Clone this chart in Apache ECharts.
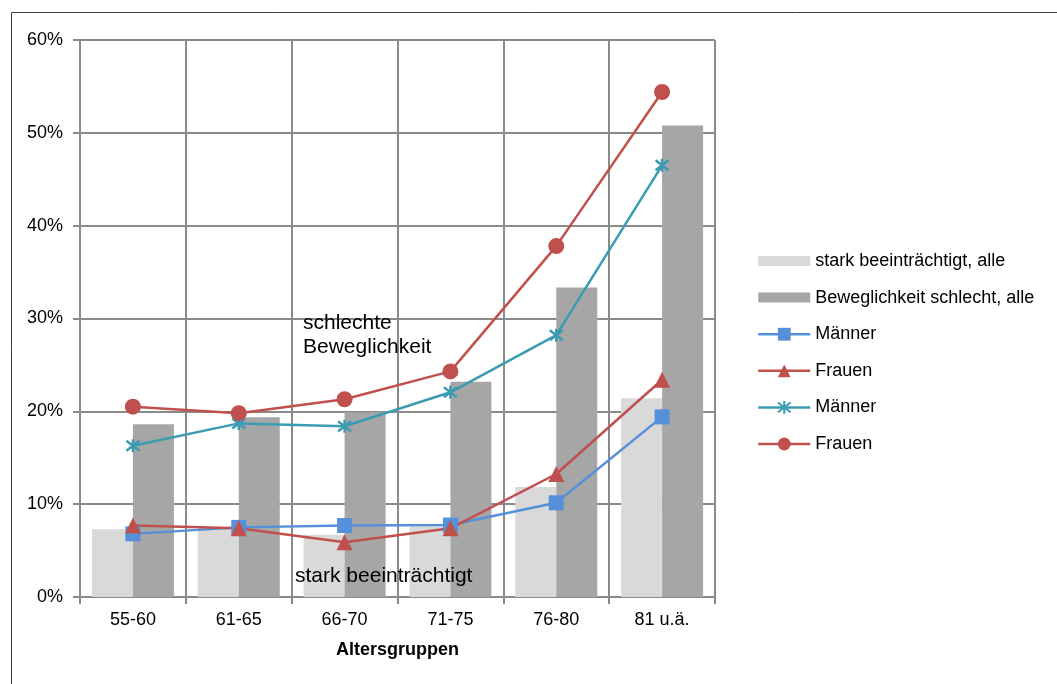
<!DOCTYPE html>
<html>
<head>
<meta charset="utf-8">
<script src="https://cdn.jsdelivr.net/npm/echarts@6/dist/echarts.min.js"></script>
<style>
  html, body { margin: 0; padding: 0; background: #fff; }
  #chart { width: 1057px; height: 684px; }
</style>
</head>
<body>
<div id="chart"></div>
<script>
// Age groups on the x axis
const categories = ['55-60', '61-65', '66-70', '71-75', '76-80', '81 u.ä.'];

// Share of people (in %) per age group
const starkAlle        = [7.3, 7.5, 6.7, 7.6, 11.85, 21.4];     // stark beeinträchtigt, alle
const beweglichAlle    = [18.6, 19.35, 19.9, 23.2, 33.35, 50.8]; // Beweglichkeit schlecht, alle
const starkMaenner     = [6.8, 7.5, 7.7, 7.75, 10.15, 19.4];
const starkFrauen      = [7.7, 7.4, 5.9, 7.4, 13.25, 23.4];
const beweglMaenner    = [16.3, 18.7, 18.4, 22.05, 28.2, 46.5];
const beweglFrauen     = [20.5, 19.8, 21.3, 24.3, 37.8, 54.4];

// Y axis ticks
const yMin = 0, yMax = 60, yStep = 10;

// Legend captions (two series share each of the gender labels)
const legendText = {
  'stark beeinträchtigt, alle': 'stark beeinträchtigt, alle',
  'Beweglichkeit schlecht, alle': 'Beweglichkeit schlecht, alle',
  'Männer (stark)': 'Männer',
  'Frauen (stark)': 'Frauen',
  'Männer (Beweglichkeit)': 'Männer',
  'Frauen (Beweglichkeit)': 'Frauen'
};

const FONT = '"Liberation Sans", Arial, sans-serif';
const GRID_COLOR = '#8a8a8a';
const LIGHT = '#d9d9d9';
const DARK = '#a6a6a6';
const BLUE = '#5590d8';
const RED = '#c0504d';
const TEAL = '#3b9bb3';

// Asterisk marker: an x with a vertical stroke
const asterisk = 'path://M0,0L10,10M10,0L0,10M5,-1.5L5,11.5';
// Flat bar swatch for the legend
const barSwatch = 'path://M0,0H52V10H0Z';

const chart = echarts.init(document.getElementById('chart'), null, { renderer: 'canvas' });

chart.setOption({
  animation: false,
  backgroundColor: '#fff',
  textStyle: { fontFamily: FONT, color: '#000' },
  grid: { left: 80, top: 40, width: 635, height: 557, containLabel: false },
  legend: {
    orient: 'vertical',
    left: 752,
    top: 247,
    itemWidth: 52,
    itemHeight: 16,
    itemGap: 18.6,
    symbolKeepAspect: true,
    lineStyle: { width: 2.5 },
    textStyle: { fontFamily: FONT, fontSize: 18, color: '#000' },
    formatter: name => legendText[name] || name,
    data: [
      { name: 'stark beeinträchtigt, alle', icon: barSwatch, itemStyle: { color: LIGHT } },
      { name: 'Beweglichkeit schlecht, alle', icon: barSwatch, itemStyle: { color: DARK } },
      'Männer (stark)', 'Frauen (stark)', 'Männer (Beweglichkeit)', 'Frauen (Beweglichkeit)'
    ],
    selectedMode: false
  },
  xAxis: {
    type: 'category',
    data: categories,
    boundaryGap: true,
    name: 'Altersgruppen',
    nameLocation: 'middle',
    nameGap: 44,
    nameTextStyle: { fontFamily: FONT, fontSize: 18, fontWeight: 'bold', color: '#000' },
    axisLine: { show: true, lineStyle: { color: GRID_COLOR, width: 2 } },
    axisTick: { show: true, length: 7, interval: 0, lineStyle: { color: GRID_COLOR, width: 2 } },
    axisLabel: { fontFamily: FONT, fontSize: 18, color: '#000', margin: 14, interval: 0 },
    splitLine: { show: true, interval: 0, lineStyle: { color: GRID_COLOR, width: 2 } }
  },
  yAxis: {
    type: 'value',
    min: yMin,
    max: yMax,
    interval: yStep,
    axisLine: { show: true, lineStyle: { color: GRID_COLOR, width: 2 } },
    axisTick: { show: true, length: 7, lineStyle: { color: GRID_COLOR, width: 2 } },
    axisLabel: { fontFamily: FONT, fontSize: 18, color: '#000', margin: 17, formatter: v => v + '%' },
    splitLine: { show: true, lineStyle: { color: GRID_COLOR, width: 2 } }
  },
  series: [
    {
      name: 'stark beeinträchtigt, alle', type: 'bar', data: starkAlle,
      barWidth: 41, barGap: '0%',
      itemStyle: { color: LIGHT }, z: 2
    },
    {
      name: 'Beweglichkeit schlecht, alle', type: 'bar', data: beweglichAlle,
      barWidth: 41, barGap: '0%',
      itemStyle: { color: DARK }, z: 2
    },
    {
      name: 'Männer (stark)', type: 'line', data: starkMaenner,
      symbol: 'rect', symbolSize: 15,
      lineStyle: { color: BLUE, width: 2.5 }, itemStyle: { color: BLUE }, z: 5
    },
    {
      name: 'Frauen (stark)', type: 'line', data: starkFrauen,
      symbol: 'triangle', symbolSize: 16,
      lineStyle: { color: RED, width: 2.5 }, itemStyle: { color: RED }, z: 5
    },
    {
      name: 'Männer (Beweglichkeit)', type: 'line', data: beweglMaenner,
      symbol: asterisk, symbolSize: 13,
      lineStyle: { color: TEAL, width: 2.5 },
      itemStyle: { color: TEAL, borderColor: TEAL, borderWidth: 2.5 }, z: 5
    },
    {
      name: 'Frauen (Beweglichkeit)', type: 'line', data: beweglFrauen,
      symbol: 'circle', symbolSize: 16,
      lineStyle: { color: RED, width: 2.5 }, itemStyle: { color: RED }, z: 5
    }
  ],
  graphic: [
    {
      type: 'rect', left: 9, top: 10, silent: true, z: 0,
      shape: { width: 1100, height: 720 },
      style: { fill: null, stroke: '#404040', lineWidth: 1 }
    },
    {
      type: 'text', left: 303, top: 311, z: 100,
      style: { text: 'schlechte\nBeweglichkeit', font: '21px ' + FONT, fill: '#000', lineHeight: 24 }
    },
    {
      type: 'text', left: 295, top: 566, z: 100,
      style: { text: 'stark beeinträchtigt', font: '21px ' + FONT, fill: '#000' }
    }
  ]
});
</script>
</body>
</html>
